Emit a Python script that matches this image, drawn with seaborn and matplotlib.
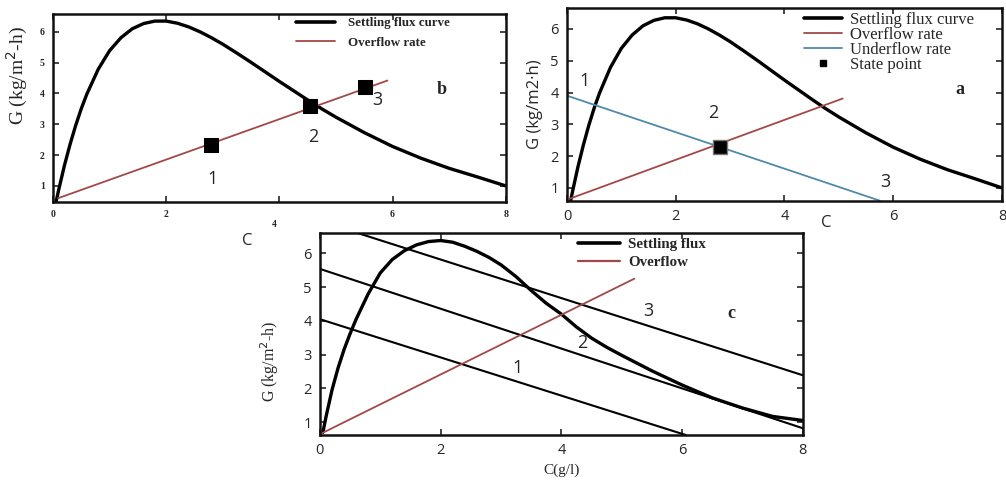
import matplotlib
matplotlib.use('Agg')
import matplotlib.pyplot as plt
import seaborn as sns
from matplotlib.lines import Line2D

# settling flux curve (panels a, b)
conc = [0.05, 0.1, 0.2, 0.3, 0.4, 0.5, 0.6, 0.8, 1.0, 1.2, 1.4, 1.6, 1.8, 2.0, 2.2, 2.4,
        2.6, 2.8, 3.0, 3.25, 3.5, 3.75, 4.0, 4.25, 4.5, 4.75, 5.0, 5.5, 6.0, 6.5, 7.0, 7.5, 8.0]
flux_ab = [0.45, 0.87, 1.65, 2.34, 2.96, 3.51, 3.99, 4.79, 5.39, 5.81, 6.10, 6.27, 6.35, 6.35,
           6.28, 6.16, 6.00, 5.81, 5.60, 5.31, 5.01, 4.70, 4.39, 4.09, 3.79, 3.50, 3.23, 2.73,
           2.28, 1.90, 1.57, 1.29, 1.00]
# settling flux curve (panel c)
flux_c = [0.7, 1.15, 1.95, 2.6, 3.15, 3.62, 4.05, 4.8, 5.42, 5.82, 6.08, 6.25, 6.35, 6.38,
          6.33, 6.21, 6.06, 5.88, 5.66, 5.31, 4.9, 4.52, 4.2, 3.82, 3.49, 3.22, 2.98, 2.52,
          2.1, 1.72, 1.42, 1.17, 1.05]

# panel b
over_b_x = [0.09, 5.91]
over_b_y = [0.6, 4.42]
state_b_x = [2.79, 4.54, 5.51]
state_b_y = [2.33, 3.6, 4.2]
lab_b = ['1', '2', '3']
lab_b_x = [2.82, 4.6, 5.74]
lab_b_y = [1.23, 2.6, 3.8]

# panel a
over_a_x = [0.05, 5.07]
over_a_y = [0.66, 3.81]
under_a_x = [0.0, 5.75]
under_a_y = [3.9, 0.6]
state_a_x = [2.81]
state_a_y = [2.3]
lab_a = ['1', '2', '3']
lab_a_x = [0.33, 2.69, 5.85]
lab_a_y = [4.35, 3.37, 1.2]

# panel c
over_c_x = [0.03, 5.21]
over_c_y = [0.67, 5.25]
under1_x = [0.0, 6.06]
under1_y = [4.05, 0.62]
under2_x = [0.0, 8.0]
under2_y = [5.54, 0.82]
under3_x = [0.63, 8.0]
under3_y = [6.6, 2.39]
lab_c = ['1', '2', '3']
lab_c_x = [3.27, 4.35, 5.45]
lab_c_y = [2.6, 3.34, 4.28]

red = '#a34848'
blue = '#4f8aa8'
serif = 'Liberation Serif'
sans = 'Open Sans'

sns.set_theme(style='ticks')
plt.rcParams['font.family'] = ['DejaVu Sans']

fig = plt.figure(figsize=(10.06, 4.83), dpi=100)
ax_b = fig.add_axes([0.0527, 0.582, 0.450, 0.389])
ax_a = fig.add_axes([0.5636, 0.584, 0.4324, 0.3996])
ax_c = fig.add_axes([0.318, 0.0994, 0.480, 0.418])

for ax in (ax_b, ax_a, ax_c):
    ax.set_xlim(0, 8)
    ax.set_xticks([0, 2, 4, 6, 8])
    ax.set_yticks([1, 2, 3, 4, 5, 6])
    ax.tick_params(direction='in', top=True, right=True, length=4, width=1.2, pad=6)
    for s in ax.spines.values():
        s.set_linewidth(1.8)
        s.set_color('#111111')

# ---- panel b
ax = ax_b
ax.set_ylim(0.48, 6.58)
sns.lineplot(x=conc, y=flux_ab, ax=ax, color='black', lw=2.4, sort=False, estimator=None)
sns.lineplot(x=over_b_x, y=over_b_y, ax=ax, color=red, lw=1.3, sort=False, estimator=None)
sns.scatterplot(x=state_b_x, y=state_b_y, ax=ax, marker='s', s=90, color='black',
                edgecolor='black', zorder=5)
for t, x, y in zip(lab_b, lab_b_x, lab_b_y):
    ax.text(x, y, t, fontsize=13, ha='center', va='center', family=sans)
ax.text(6.87, 4.13, 'b', fontsize=13, fontweight='bold', family=serif, ha='center', va='center')
ax.set_xticklabels(['0', '2', '', '6', '8'])
for lbl in ax.get_xticklabels() + ax.get_yticklabels():
    lbl.set_family(serif)
    lbl.set_fontsize(7)
    lbl.set_fontweight('bold')
ax.annotate('4', xy=(4, 0), xycoords=('data', 'axes fraction'), xytext=(-4, -18),
            textcoords='offset points', fontsize=7, fontweight='bold', family=serif, ha='center')
ax.set_ylabel('G (kg/m$^2$-h)', family=serif, fontsize=14)
ax.yaxis.set_label_coords(-0.05, 0.675)
ax.set_xlabel('C', family=sans, fontsize=12)
ax.xaxis.set_label_coords(0.428, -0.165)
hb = [Line2D([], [], color='black', lw=2.6), Line2D([], [], color=red, lw=1.3)]
ax.legend(hb, ['Settling flux curve', 'Overflow rate'], loc='upper left',
          bbox_to_anchor=(0.534, 0.99), frameon=False, borderpad=0.1, borderaxespad=0,
          handlelength=3.0, handletextpad=1.0, labelspacing=0.55,
          prop={'family': serif, 'size': 9.4, 'weight': 'bold'})

# ---- panel a
ax = ax_a
ax.set_ylim(0.59, 6.66)
sns.lineplot(x=conc, y=flux_ab, ax=ax, color='black', lw=2.4, sort=False, estimator=None)
sns.lineplot(x=over_a_x, y=over_a_y, ax=ax, color=red, lw=1.3, sort=False, estimator=None)
sns.lineplot(x=under_a_x, y=under_a_y, ax=ax, color=blue, lw=1.3, sort=False, estimator=None)
sns.scatterplot(x=state_a_x, y=state_a_y, ax=ax, marker='s', s=100, color='black',
                edgecolor='#777777', linewidth=1, zorder=5)
for t, x, y in zip(lab_a, lab_a_x, lab_a_y):
    ax.text(x, y, t, fontsize=13, ha='center', va='center', family=sans)
ax.text(7.22, 4.1, 'a', fontsize=13, fontweight='bold', family=serif, ha='center', va='center')
for lbl in ax.get_xticklabels() + ax.get_yticklabels():
    lbl.set_family(sans)
    lbl.set_fontsize(10.5)
ax.set_ylabel('G (kg/m2·h)', family=sans, fontsize=12)
ax.yaxis.set_label_coords(-0.055, 0.5)
ax.set_xlabel('C', family=sans, fontsize=12)
ax.xaxis.set_label_coords(0.595, -0.075)
ha = [Line2D([], [], color='black', lw=2.6), Line2D([], [], color=red, lw=1.3),
      Line2D([], [], color=blue, lw=1.3),
      Line2D([], [], color='black', marker='s', ls='none', markersize=5)]
ax.legend(ha, ['Settling flux curve', 'Overflow rate', 'Underflow rate', 'State point'],
          loc='upper left', bbox_to_anchor=(0.54, 0.99), frameon=False, borderpad=0.1,
          borderaxespad=0, handlelength=2.3, handletextpad=0.5, labelspacing=-0.05,
          prop={'family': serif, 'size': 12})

# ---- panel c
ax = ax_c
ax.set_ylim(0.62, 6.6)
sns.lineplot(x=conc, y=flux_c, ax=ax, color='black', lw=2.4, sort=False, estimator=None)
for xs, ys in ((under1_x, under1_y), (under2_x, under2_y), (under3_x, under3_y)):
    sns.lineplot(x=xs, y=ys, ax=ax, color='black', lw=1.5, sort=False, estimator=None)
sns.lineplot(x=over_c_x, y=over_c_y, ax=ax, color=red, lw=1.3, sort=False, estimator=None)
for t, x, y in zip(lab_c, lab_c_x, lab_c_y):
    ax.text(x, y, t, fontsize=13, ha='center', va='center', family=sans)
ax.text(6.81, 4.22, 'c', fontsize=13, fontweight='bold', family=serif, ha='center', va='center')
for lbl in ax.get_xticklabels() + ax.get_yticklabels():
    lbl.set_family(sans)
    lbl.set_fontsize(10.5)
ax.set_ylabel('G (kg/m$^2$-h)', family=serif, fontsize=11.5)
ax.yaxis.set_label_coords(-0.08, 0.366)
ax.set_xlabel('C(g/l)', family=serif, fontsize=11)
hc = [Line2D([], [], color='black', lw=2.6), Line2D([], [], color=red, lw=1.6)]
ax.legend(hc, ['Settling flux', 'Overflow'], loc='upper left',
          bbox_to_anchor=(0.532, 0.985), frameon=False, borderpad=0.1, borderaxespad=0,
          handlelength=2.8, handletextpad=0.5, labelspacing=0.3,
          prop={'family': serif, 'size': 10.8, 'weight': 'bold'})

fig.savefig('out.png', dpi=100)
plt.close(fig)
